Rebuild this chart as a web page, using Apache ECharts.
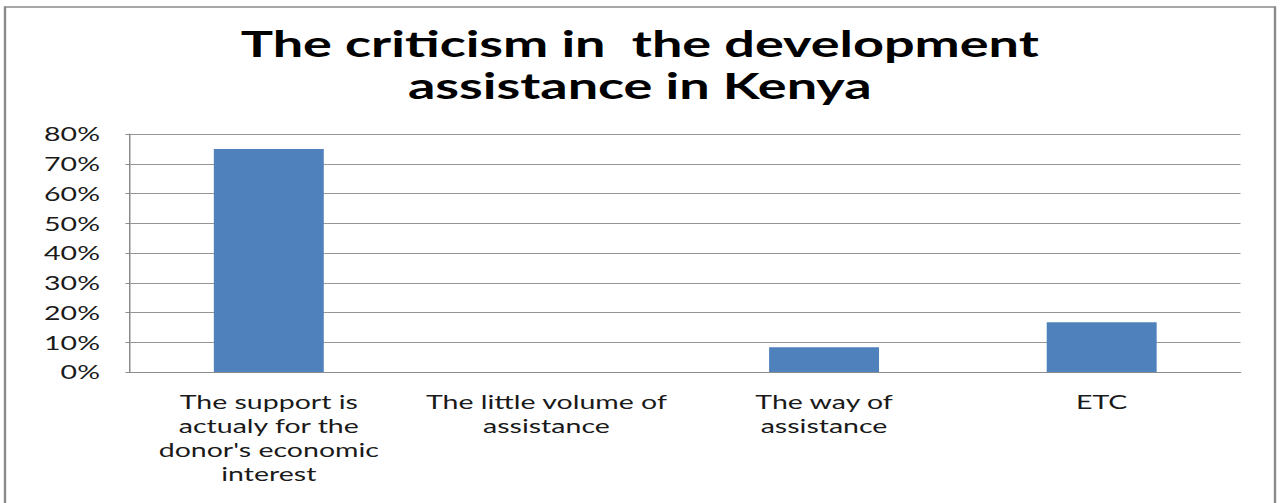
<!DOCTYPE html>
<html>
<head>
<meta charset="utf-8">
<script src="https://cdn.jsdelivr.net/npm/echarts@6/dist/echarts.min.js"></script>
<style>
  html, body { margin: 0; padding: 0; background: #fff; overflow: hidden; }
  #stage { width: 1280px; height: 503px; overflow: hidden; position: relative; }
  /* chart is laid out narrow and widened, giving the wide lettering */
  #chart { width: 853.333px; height: 503px; transform: scaleX(1.5); transform-origin: 0 0; }
</style>
</head>
<body>
<div id="stage"><div id="chart"></div></div>
<script>
// Survey answers: share of respondents per criticism (percent)
const titleLines = ['The criticism in  the development', 'assistance in Kenya'];
const categories = [
  'The support is\nactualy for the\ndonor\'s economic\ninterest',
  'The little volume of\nassistance',
  'The way of\nassistance',
  'ETC'
];
const shares = [75, 0, 8.3, 16.7];
const yTicks = { min: 0, max: 80, interval: 10 };

const SX = 1.5; // horizontal widening factor

const chart = echarts.init(document.getElementById('chart'), null, { renderer: 'svg' });

chart.setOption({
  animation: false,
  backgroundColor: '#ffffff',
  title: {
    text: titleLines.join('\n'),
    left: 'center',
    top: 17,
    textStyle: {
      fontFamily: 'Lato',
      fontWeight: 'bold',
      fontSize: 36,
      lineHeight: 42,
      color: '#000000'
    }
  },
  graphic: [{
    type: 'rect',
    shape: { x: 5 / SX, y: 7, width: (1275 - 5) / SX, height: 520 },
    style: { fill: 'none', stroke: '#8a8a8a', lineWidth: 1.6 },
    silent: true
  }],
  grid: {
    left: 130 / SX,
    right: (1280 - 1241) / SX,
    top: 134,
    bottom: 503 - 372,
    containLabel: false
  },
  xAxis: {
    type: 'category',
    data: categories,
    axisLine: { show: true, lineStyle: { color: '#8c8c8c', width: 1 } },
    axisTick: { show: false },
    axisLabel: {
      interval: 0,
      margin: 18,
      fontFamily: 'Lato',
      fontSize: 19,
      lineHeight: 24,
      color: '#1a1a1a',
      align: 'center'
    }
  },
  yAxis: {
    type: 'value',
    min: yTicks.min,
    max: yTicks.max,
    interval: yTicks.interval,
    axisLine: { show: true, lineStyle: { color: '#8c8c8c', width: 1 } },
    axisTick: { show: true, length: 3, lineStyle: { color: '#8c8c8c' } },
    splitLine: { show: true, lineStyle: { color: '#959595', width: 1 } },
    axisLabel: {
      formatter: '{value}%',
      margin: 20,
      fontFamily: 'Lato',
      fontSize: 19,
      color: '#1a1a1a'
    }
  },
  series: [{
    type: 'bar',
    data: shares,
    barWidth: '39.6%',
    itemStyle: { color: '#4f81bd' }
  }]
});
</script>
</body>
</html>
